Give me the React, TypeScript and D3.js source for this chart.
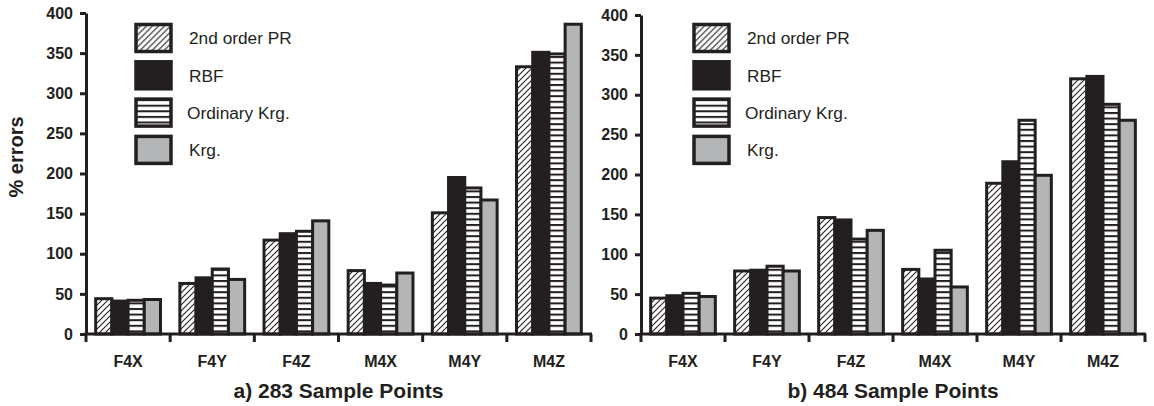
import { useEffect, useRef } from 'react';
import * as d3 from 'd3';

const categories = ['F4X', 'F4Y', 'F4Z', 'M4X', 'M4Y', 'M4Z'];
const seriesNames = ['2nd order PR', 'RBF', 'Ordinary Krg.', 'Krg.'];
const yTicks = [0, 50, 100, 150, 200, 250, 300, 350, 400];

// a) 283 sample points
const pr283 = [44, 63, 117, 79, 151, 333];
const rbf283 = [41, 70, 125, 63, 195, 351];
const okrg283 = [42, 81, 128, 61, 182, 349];
const krg283 = [43, 68, 141, 76, 167, 386];

// b) 484 sample points
const pr484 = [45, 79, 146, 81, 189, 320];
const rbf484 = [48, 80, 143, 69, 216, 323];
const okrg484 = [51, 85, 119, 105, 268, 288];
const krg484 = [47, 79, 130, 59, 199, 268];

const INK = '#231f20';
const GREY = '#b3b5b7';
const FONT = '"Liberation Sans", Arial, Helvetica, sans-serif';
const fills = ['url(#hatch)', INK, 'url(#stripes)', GREY];

type Panel = {
  left: number;
  right: number;
  top: number;
  bottom: number;
  series: number[][];
  title: string;
  legendX: number;
};

const panels: Panel[] = [
  { left: 86, right: 591, top: 13, bottom: 334, series: [pr283, rbf283, okrg283, krg283], title: 'a) 283 Sample Points', legendX: 136 },
  { left: 641, right: 1145, top: 15, bottom: 334, series: [pr484, rbf484, okrg484, krg484], title: 'b) 484 Sample Points', legendX: 694 },
];

const App = () => {
  const svgRef = useRef<SVGSVGElement>(null);

  useEffect(() => {
    const svg = d3.select(svgRef.current);
    svg.selectAll('*').remove();

    // motifs de remplissage
    const defs = svg.append('defs');
    const hatch = defs.append('pattern')
      .attr('id', 'hatch')
      .attr('patternUnits', 'userSpaceOnUse')
      .attr('width', 6).attr('height', 6);
    hatch.append('rect').attr('width', 6).attr('height', 6).attr('fill', '#fff');
    hatch.append('path')
      .attr('d', 'M-1,1 l2,-2 M0,6 l6,-6 M5,7 l2,-2')
      .attr('stroke', INK).attr('stroke-width', 1.1);

    const stripes = defs.append('pattern')
      .attr('id', 'stripes')
      .attr('patternUnits', 'userSpaceOnUse')
      .attr('width', 6).attr('height', 5.6);
    stripes.append('rect').attr('width', 6).attr('height', 5.6).attr('fill', '#fff');
    stripes.append('rect').attr('y', 0).attr('width', 6).attr('height', 2).attr('fill', INK);

    panels.forEach(p => {
      const g = svg.append('g');

      const x0 = d3.scaleBand<string>()
        .domain(categories)
        .range([p.left, p.right])
        .paddingInner(0.23)
        .paddingOuter(0.115);

      const x1 = d3.scaleBand<string>()
        .domain(seriesNames)
        .range([0, x0.bandwidth()]);

      const y = d3.scaleLinear().domain([0, 400]).range([p.bottom, p.top]);

      // barres
      p.series.forEach((vals, si) => {
        g.append('g')
          .selectAll('rect')
          .data(vals)
          .enter().append('rect')
          .attr('x', (_, i) => (x0(categories[i]) as number) + (x1(seriesNames[si]) as number))
          .attr('y', d => y(d))
          .attr('width', x1.bandwidth())
          .attr('height', d => y(0) - y(d))
          .attr('fill', fills[si])
          .attr('stroke', INK)
          .attr('stroke-width', 3);
      });

      // axe Y
      const yAxis = g.append('g')
        .attr('transform', `translate(${p.left},0)`)
        .call(d3.axisLeft(y).tickValues(yTicks).tickSize(6).tickSizeOuter(0).tickPadding(7));
      yAxis.select('.domain').attr('stroke', INK).attr('stroke-width', 3);
      yAxis.selectAll('.tick line').attr('stroke', INK).attr('stroke-width', 3);
      yAxis.selectAll('.tick text')
        .attr('fill', INK)
        .attr('font-family', FONT)
        .attr('font-size', 16)
        .attr('font-weight', 'bold');

      // axe X, graduations entre les groupes
      const step = x0.step();
      const ticks = d3.range(categories.length + 1).map(i => p.left + i * step);
      g.append('line')
        .attr('x1', p.left - 1.5).attr('x2', p.right + 1)
        .attr('y1', y(0)).attr('y2', y(0))
        .attr('stroke', INK).attr('stroke-width', 3);
      g.append('g')
        .selectAll('line')
        .data(ticks)
        .enter().append('line')
        .attr('x1', d => d).attr('x2', d => d)
        .attr('y1', y(0)).attr('y2', y(0) + 8)
        .attr('stroke', INK).attr('stroke-width', 3);

      g.append('g')
        .selectAll('text')
        .data(categories)
        .enter().append('text')
        .attr('x', d => (x0(d) as number) + x0.bandwidth() / 2)
        .attr('y', 367)
        .attr('text-anchor', 'middle')
        .attr('fill', INK)
        .attr('font-family', FONT)
        .attr('font-size', 16)
        .attr('font-weight', 'bold')
        .text(d => d);

      g.append('text')
        .attr('x', (p.left + p.right) / 2)
        .attr('y', 398)
        .attr('text-anchor', 'middle')
        .attr('fill', INK)
        .attr('font-family', FONT)
        .attr('font-size', 21)
        .attr('font-weight', 'bold')
        .text(p.title);

      // légende
      const leg = g.append('g')
        .selectAll('g')
        .data(seriesNames)
        .enter().append('g')
        .attr('transform', (_, i) => `translate(${p.legendX},${24.5 + i * 37.3})`);
      leg.append('rect')
        .attr('width', 35).attr('height', 27)
        .attr('fill', (_, i) => fills[i])
        .attr('stroke', INK)
        .attr('stroke-width', 3.5);
      leg.append('text')
        .attr('x', (_, i) => (i === 2 ? 51 : 53))
        .attr('y', 13.5)
        .attr('dy', '0.36em')
        .attr('fill', INK)
        .attr('font-family', FONT)
        .attr('font-size', 17.3)
        .text(d => d);
    });

    // titre de l'axe Y
    svg.append('text')
      .attr('transform', 'translate(23,157) rotate(-90)')
      .attr('text-anchor', 'middle')
      .attr('fill', INK)
      .attr('font-family', FONT)
      .attr('font-size', 20)
      .attr('font-weight', 'bold')
      .text('% errors');
  }, []);

  return (
    <svg
      ref={svgRef}
      width={1154}
      height={406}
      style={{ position: 'absolute', left: 0, top: 0, background: '#fff' }}
    />
  );
};

export default App;
